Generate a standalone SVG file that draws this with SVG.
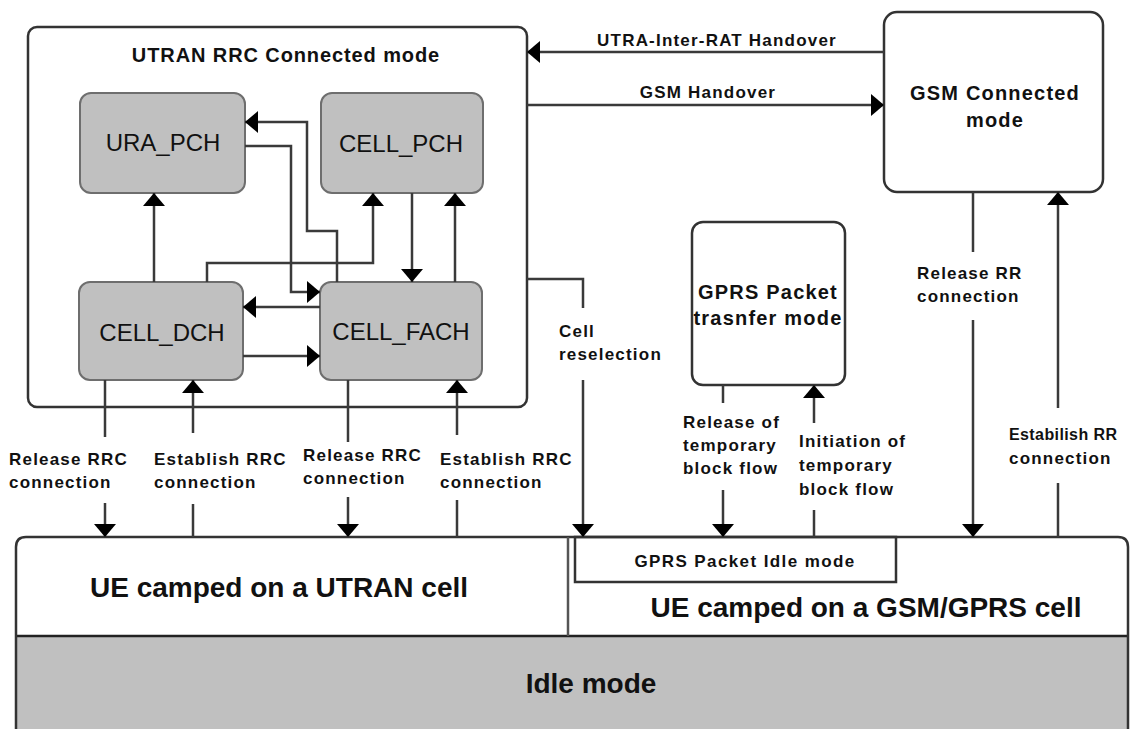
<svg xmlns="http://www.w3.org/2000/svg" width="1131" height="729" viewBox="0 0 1131 729">
<style>
text{font-family:"Liberation Sans",Arial,sans-serif;fill:#111}
.lbl{font-size:17px;font-weight:bold;letter-spacing:1.2px}
.title{font-size:20px;font-weight:bold;letter-spacing:0.9px}
.state{font-size:24px}
.mid{font-size:20px;font-weight:bold;letter-spacing:1.2px}
.big{font-size:28px;font-weight:bold}
.c{text-anchor:middle}
.st{fill:#c0c0c0;stroke:#6e6e6e;stroke-width:2}
.box{fill:#fff;stroke:#333;stroke-width:2.5}
.con{fill:none;stroke:#3a3a3a;stroke-width:2.5;marker-end:url(#ah)}
.ln{fill:none;stroke:#3a3a3a;stroke-width:2.5}
</style>
<defs>
<marker id="ah" viewBox="0 0 13 22" refX="13" refY="11" markerWidth="13" markerHeight="22" markerUnits="userSpaceOnUse" orient="auto">
<path d="M0,0 L13,11 L0,22 z" fill="#000"/>
</marker>
</defs>
<rect width="1131" height="729" fill="#fff"/>

<g id="idle-area">
<path d="M16,728 V547 Q16,537 26,537 H1118 Q1128,537 1128,547 V728 Z" fill="#fff"/>
<rect x="16" y="636" width="1112" height="93" fill="#c0c0c0"/>
<line x1="16" y1="636" x2="1128" y2="636" stroke="#222" stroke-width="2.5"/>
<path d="M16,729 V547 Q16,537 26,537 H1118 Q1128,537 1128,547 V729" fill="none" stroke="#333" stroke-width="2.5"/>
<line x1="568" y1="537" x2="568" y2="636" stroke="#555" stroke-width="2.5"/>
</g>
<g id="ue-utran">
<text class="big c" x="279" y="597">UE camped on a UTRAN cell</text>
</g>
<g id="ue-gsm">
<text class="big c" x="866" y="617">UE camped on a GSM/GPRS cell</text>
</g>
<g id="gprs-idle">
<rect x="575" y="537" width="321" height="45" fill="none" stroke="#333" stroke-width="2.5"/>
<text class="c" x="745" y="567" style="font-size:17px;font-weight:bold;letter-spacing:1.4px">GPRS Packet Idle mode</text>
</g>
<g id="idle-mode">
<text class="big c" x="591" y="693">Idle mode</text>
</g>

<g id="utran-connected">
<rect class="box" x="28" y="27" width="499" height="380" rx="9"/>
<text class="title c" x="286" y="62">UTRAN RRC Connected mode</text>
</g>
<g id="ura-pch">
<rect class="st" x="80" y="93" width="165" height="100" rx="11"/>
<text class="state c" x="163" y="151">URA_PCH</text>
</g>
<g id="cell-pch">
<rect class="st" x="321" y="93" width="162" height="100" rx="11"/>
<text class="state c" x="401" y="152">CELL_PCH</text>
</g>
<g id="cell-dch">
<rect class="st" x="79" y="282" width="164" height="98" rx="11"/>
<text class="state c" x="162" y="341">CELL_DCH</text>
</g>
<g id="cell-fach">
<rect class="st" x="320" y="282" width="162" height="98" rx="11"/>
<text class="state c" x="401" y="340">CELL_FACH</text>
</g>

<g id="gsm-connected">
<rect class="box" x="884" y="12" width="219" height="180" rx="13"/>
<text class="mid c" x="995" y="100">GSM Connected</text>
<text class="mid c" x="995" y="127">mode</text>
</g>
<g id="gprs-transfer">
<rect class="box" x="692" y="222" width="153" height="163" rx="11"/>
<text class="mid c" x="768" y="299">GPRS Packet</text>
<text class="mid c" x="768" y="325">trasnfer mode</text>
</g>

<g id="connectors">
<path class="con" d="M154,282 V193"/>
<path class="con" d="M245,146 H291 V292 H320"/>
<path class="con" d="M337,282 V231 H307 V122 H245"/>
<path class="con" d="M207,282 V263 H373 V193"/>
<path class="con" d="M412,193 V282"/>
<path class="con" d="M455,282 V193"/>
<path class="con" d="M320,307 H243"/>
<path class="con" d="M243,356 H320"/>

<path class="con" d="M884,52 H527"/>
<path class="con" d="M527,105 H884"/>
<path class="ln" d="M527,279 H583 V308"/>
<path class="con" d="M583,380 V537"/>
<path class="ln" d="M105,380 V437"/>
<path class="con" d="M105,503 V537"/>
<path class="ln" d="M193,537 V504"/>
<path class="con" d="M193,433 V380"/>
<path class="ln" d="M348,380 V442"/>
<path class="con" d="M348,497 V537"/>
<path class="ln" d="M457,537 V500"/>
<path class="con" d="M457,435 V380"/>
<path class="ln" d="M723,385 V403"/>
<path class="con" d="M723,490 V537"/>
<path class="ln" d="M814,537 V510"/>
<path class="con" d="M814,423 V385"/>
<path class="ln" d="M973,192 V252"/>
<path class="con" d="M973,320 V537"/>
<path class="ln" d="M1058,537 V483"/>
<path class="con" d="M1058,408 V192"/>

<text class="lbl c" x="717" y="46">UTRA-Inter-RAT Handover</text>
<text class="lbl c" x="708" y="98">GSM Handover</text>
<text class="lbl" x="559" y="337">Cell</text>
<text class="lbl" x="559" y="360">reselection</text>
<text class="lbl" x="9" y="465">Release RRC</text>
<text class="lbl" x="9" y="488">connection</text>
<text class="lbl" x="154" y="465">Establish RRC</text>
<text class="lbl" x="154" y="488">connection</text>
<text class="lbl" x="303" y="461">Release RRC</text>
<text class="lbl" x="303" y="484">connection</text>
<text class="lbl" x="440" y="465">Establish RRC</text>
<text class="lbl" x="440" y="488">connection</text>
<text class="lbl" x="683" y="428">Release of</text>
<text class="lbl" x="683" y="451">temporary</text>
<text class="lbl" x="683" y="474">block flow</text>
<text class="lbl" x="799" y="447">Initiation of</text>
<text class="lbl" x="799" y="471">temporary</text>
<text class="lbl" x="799" y="495">block flow</text>
<text class="lbl" x="917" y="279">Release RR</text>
<text class="lbl" x="917" y="302">connection</text>
<text class="lbl" x="1009" y="440" style="font-size:16px;letter-spacing:0.4px">Estabilish RR</text>
<text class="lbl" x="1009" y="464">connection</text>
</g>
</svg>
